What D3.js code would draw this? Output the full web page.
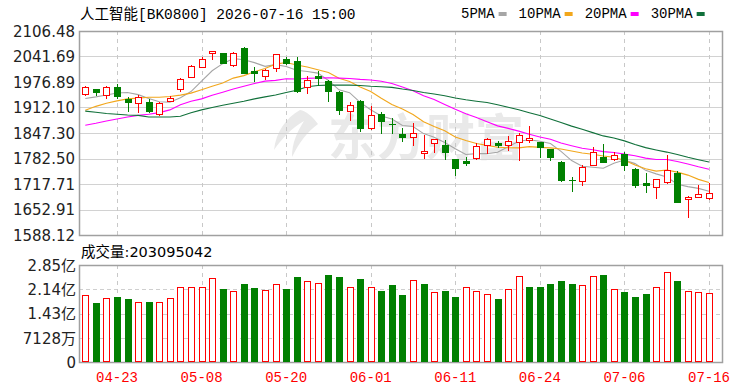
<!DOCTYPE html>
<html><head><meta charset="utf-8">
<script src="https://cdn.jsdelivr.net/npm/d3@7"></script>
<style>html,body{margin:0;padding:0;background:#fff;overflow:hidden}</style>
</head><body><svg id="c" width="750" height="391"></svg>
<script>
// ---------------- data ----------------
const title = "人工智能[BK0800] 2026-07-16 15:00";
const volTitle = "成交量:203095042";
const dates = ["04-20","04-21","04-22","04-23","04-24","04-27","04-28","04-29","04-30","05-06",
  "05-07","05-08","05-11","05-12","05-13","05-14","05-15","05-18","05-19","05-20",
  "05-21","05-22","05-25","05-26","05-27","05-28","05-29","06-01","06-02","06-03",
  "06-04","06-05","06-08","06-09","06-10","06-11","06-12","06-15","06-16","06-17",
  "06-18","06-22","06-23","06-24","06-25","06-26","06-29","06-30","07-01","07-02",
  "07-03","07-06","07-07","07-08","07-09","07-10","07-13","07-14","07-15","07-16"];
const openP = [1946.4,1959.1,1943.8,1964.3,1932.8,1922.6,1926.9,1894.5,1928.5,1959.1,
  1989.8,2015.3,2049.5,2049.5,2018.9,2063.1,2004.1,1992.1,2012.5,2036.1,
  2029.5,1963.4,1992.9,1978.7,1951.5,1903.9,1927.9,1860.0,1895.6,1870.2,
  1845.5,1837.9,1797.2,1821.1,1816.8,1780.5,1776.9,1783.0,1816.8,1821.1,
  1817.6,1825.2,1829.5,1823.7,1805.9,1774.4,1727.9,1725.3,1766.0,1785.5,
  1780.5,1793.9,1755.0,1719.5,1710.9,1723.6,1744.9,1678.8,1685.4,1681.4];
const highP = [1967.0,1960.0,1966.5,1971.1,1938.7,1943.8,1932.8,1926.9,1942.3,1986.5,
  2019.7,2039.3,2056.7,2050.3,2052.9,2065.6,2014.3,2008.7,2049.3,2039.7,
  2039.7,1991.4,2004.1,1982.7,1952.8,1926.1,1931.9,1915.1,1900.7,1885.4,
  1860.0,1873.5,1842.2,1832.1,1829.5,1782.5,1787.1,1821.1,1833.8,1827.8,
  1839.7,1846.5,1865.1,1824.5,1806.7,1776.1,1736.3,1766.0,1812.5,1819.3,
  1799.8,1799.8,1758.4,1744.9,1731.0,1791.4,1751.5,1686.0,1715.2,1721.0];
const lowP = [1944.0,1943.0,1935.4,1935.4,1902.9,1901.4,1899.7,1893.0,1927.7,1954.0,
  1989.0,2014.6,2035.7,2024.8,2017.1,1999.2,1980.2,1985.3,2005.6,2022.6,
  1951.5,1949.0,1970.0,1927.8,1895.6,1881.1,1853.1,1858.7,1847.3,1847.3,
  1826.2,1816.8,1783.0,1799.8,1780.5,1740.6,1766.0,1782.5,1795.7,1812.5,
  1804.1,1778.7,1825.2,1787.1,1778.7,1726.6,1700.7,1715.2,1765.0,1773.6,
  1778.7,1753.3,1710.9,1698.2,1681.4,1719.5,1671.0,1634.6,1684.5,1680.0];
const closeP = [1965.3,1950.7,1965.3,1942.3,1926.9,1938.7,1902.9,1923.4,1935.4,1984.7,
  2017.1,2035.7,2054.6,2025.5,2050.3,2001.0,1999.0,2007.4,2048.0,2025.9,
  1953.3,1982.7,1987.1,1954.8,1906.5,1917.7,1860.0,1892.3,1877.0,1866.9,
  1836.4,1846.5,1802.3,1831.3,1799.8,1757.6,1771.8,1814.3,1831.3,1817.6,
  1826.2,1842.2,1833.8,1812.5,1787.1,1727.9,1724.5,1761.6,1799.8,1774.4,
  1791.4,1766.0,1716.0,1714.0,1729.6,1753.3,1672.7,1685.4,1692.0,1694.1];
const volume = [197e6,172.5e6,187e6,192e6,184e6,175e6,175e6,175e6,187e6,220e6,
  220e6,220e6,246e6,214e6,209e6,230e6,217e6,212e6,229e6,214e6,
  251e6,238e6,233e6,256e6,251e6,221e6,243e6,221e6,210e6,225e6,
  196e6,241e6,230e6,205e6,210e6,192e6,220e6,209e6,200e6,184e6,
  215e6,254e6,221e6,221e6,230e6,238e6,230e6,225e6,254e6,255e6,
  215e6,205e6,192e6,201e6,220e6,265e6,238e6,209e6,205e6,203095042];
const ma5 = [1935,1939,1944,1949,1950.1,1944.8,1935.2,1926.8,1925.5,1937.0,
  1952.7,1979.3,2005.5,2023.5,2036.6,2033.4,2026.1,2016.6,2021.1,2016.3,
  2006.7,2003.5,1999.4,1980.8,1956.9,1949.8,1925.2,1906.3,1890.7,1882.8,
  1866.5,1863.8,1845.8,1836.7,1823.3,1807.5,1792.6,1795.0,1795.0,1798.5,
  1812.2,1826.3,1830.2,1826.5,1820.4,1800.7,1777.2,1762.7,1760.2,1757.6,
  1770.3,1778.6,1769.5,1752.4,1743.4,1735.8,1717.1,1711.0,1706.6,1699.5];
const ma10 = [1905,1915,1923,1929,1934,1936,1938,1938,1940,1943.6,
  1948.7,1957.2,1966.2,1974.5,1986.8,1993.1,2002.7,2011.1,2022.3,2026.5,
  2020.1,2014.8,2008.0,2001.0,1986.6,1978.2,1964.3,1952.8,1935.7,1919.8,
  1908.1,1894.5,1876.0,1863.7,1853.0,1837.0,1828.2,1820.4,1815.8,1810.9,
  1809.9,1809.4,1812.6,1810.7,1809.4,1806.5,1801.7,1796.5,1793.3,1789.0,
  1785.5,1777.9,1766.1,1756.3,1750.5,1753.1,1747.9,1740.3,1729.5,1721.5];
const ma20 = [1867,1872,1878,1883,1888,1892,1895,1899,1906,1919,
  1928,1934,1943,1951,1959,1966,1973,1979,1981,1985.0,
  1984.4,1986.0,1987.1,1987.7,1986.7,1985.7,1983.5,1982.0,1979.0,1973.1,
  1964.1,1954.6,1942.0,1932.3,1919.8,1907.6,1896.3,1886.6,1875.8,1865.4,
  1859.0,1852.0,1844.3,1837.2,1831.2,1821.7,1815.0,1808.4,1804.6,1799.9,
  1797.7,1793.7,1789.4,1783.5,1780.0,1779.8,1774.8,1768.4,1761.4,1755.2];
const ma30 = [1903,1900,1897,1895,1893,1892,1888,1888,1888,1890,
  1899,1906,1912,1918,1923,1928,1934,1939,1944,1950,
  1956,1965,1968,1969,1969,1969,1968,1966,1965,1963.3,
  1959.0,1955.5,1950.1,1946.4,1942.1,1936.1,1931.7,1928.1,1924.6,1919.1,
  1912.7,1906.2,1898.9,1891.8,1883.0,1873.9,1864.8,1856.6,1848.3,1839.9,
  1834.5,1827.3,1818.3,1810.2,1804.3,1798.8,1792.6,1785.7,1779.5,1773.8];
const maNames = ["5PMA","10PMA","20PMA","30PMA"];
const priceTicks = [1588.12,1652.91,1717.71,1782.50,1847.30,1912.10,1976.89,2041.69,2106.48];
const volTicks = [0,71280000,142560000,213840000,285120000];
const volTickLabels = ["0","7128万","1.43亿","2.14亿","2.85亿"];
const xTickLabels = ["04-23","05-08","05-20","06-01","06-11","06-24","07-06","07-16"];

// ---------------- styles / layout ----------------
const RED = "#ff0000", GREEN = "#008000";
const maColors = ["#a6a6a6","#f2a71c","#ff00ff","#10703a"];
const F = {left:79, right:722, pTop:31, pBot:235, vTop:265, vBot:362};
const monoFont = "'Liberation Mono','Noto Sans CJK SC',monospace";
const sansFont = "'DejaVu Sans','Noto Sans CJK SC',sans-serif";

const svg = d3.select("#c");
const x = d3.scaleBand().domain(dates).range([80, 714.3]).padding(0);
const cx = d => x(d) + x.bandwidth() / 2;
const y = d3.scaleLinear().domain([priceTicks[0], priceTicks[priceTicks.length-1]]).range([F.pBot, F.pTop]);
const yv = d3.scaleLinear().domain([0, volTicks[volTicks.length-1]]).range([F.vBot, F.vTop]);

// watermark
const wm = svg.append("g").attr("fill", "#e9e9e9");
wm.append("path").attr("d",
  "M300,110 C286,118 276,132 274,150 C282,138 292,128 304,121 C297,132 292,143 292,157 C299,143 307,132 318,124 C312,116 306,111 300,110 Z");
wm.append("text").attr("x", 328).attr("y", 155).attr("font-family", "'Noto Sans CJK SC',sans-serif")
  .attr("font-weight", "bold").attr("font-size", 49).attr("letter-spacing", 0).text("东方财富");

// grids
const grid = svg.append("g");
priceTicks.slice(1, -1).forEach(t => {
  const yy = Math.round(y(t)) + 0.5;
  grid.append("line").attr("x1", F.left).attr("x2", F.right).attr("y1", yy).attr("y2", yy)
    .attr("stroke", "#d2d2d2").attr("stroke-width", 1);
});
volTicks.slice(1, -1).forEach(t => {
  const yy = Math.round(yv(t)) + 0.5;
  grid.append("line").attr("x1", F.left).attr("x2", F.right).attr("y1", yy).attr("y2", yy)
    .attr("stroke", "#cfcfcf").attr("stroke-dasharray", "4,3");
});
xTickLabels.forEach(d => {
  const xx = Math.round(cx(d)) + 0.5;
  [[F.pTop, F.pBot], [F.vTop, F.vBot]].forEach(([a, b]) => {
    grid.append("line").attr("x1", xx).attr("x2", xx).attr("y1", a).attr("y2", b)
      .attr("stroke", "#c8c8c8").attr("stroke-dasharray", "4,4");
  });
});

// frames
[[F.pTop, F.pBot], [F.vTop, F.vBot]].forEach(([a, b]) => {
  svg.append("rect").attr("x", F.left + 0.5).attr("y", a + 0.5).attr("width", F.right - F.left)
    .attr("height", b - a).attr("fill", "none").attr("stroke", "#a0a0a0").attr("stroke-width", 1.5);
});

// MA lines
const maSeries = [ma5, ma10, ma20, ma30];
const line = d3.line().x((v, i) => cx(dates[i])).y(v => y(v));
maSeries.forEach((s, k) => {
  svg.append("path").datum(s).attr("d", line).attr("fill", "none")
    .attr("stroke", maColors[k]).attr("stroke-width", 1.1);
});

// candles
const cg = svg.append("g");
dates.forEach((d, i) => {
  const o = openP[i], c = closeP[i], h = highP[i], l = lowP[i];
  const up = c >= o;
  const col = up ? RED : GREEN;
  const px = Math.round(cx(d));
  cg.append("line").attr("x1", px + 0.5).attr("x2", px + 0.5)
    .attr("y1", Math.round(y(h))).attr("y2", Math.round(y(l)) + 1).attr("stroke", col);
  const top = Math.round(y(Math.max(o, c))), bot = Math.round(y(Math.min(o, c)));
  if (bot - top < 2) {
    cg.append("rect").attr("x", px - 3).attr("y", top).attr("width", 7).attr("height", Math.max(1, bot - top)).attr("fill", col);
  } else if (up) {
    cg.append("rect").attr("x", px - 2.5).attr("y", top + 0.5).attr("width", 6).attr("height", bot - top)
      .attr("fill", "#fff").attr("stroke", RED).attr("stroke-width", 1);
  } else {
    cg.append("rect").attr("x", px - 3).attr("y", top).attr("width", 7).attr("height", bot - top + 1).attr("fill", GREEN);
  }
});

// volume bars (colour by change vs previous close)
const vg = svg.append("g");
dates.forEach((d, i) => {
  const up = i === 0 ? closeP[i] >= openP[i] : closeP[i] >= closeP[i-1];
  const px = Math.round(cx(d));
  const top = Math.round(yv(volume[i]));
  if (up) {
    vg.append("rect").attr("x", px - 2.5).attr("y", top + 0.5).attr("width", 6).attr("height", F.vBot - top - 1)
      .attr("fill", "#fff").attr("stroke", RED).attr("stroke-width", 1);
  } else {
    vg.append("rect").attr("x", px - 3).attr("y", top).attr("width", 7).attr("height", F.vBot - top).attr("fill", GREEN);
  }
});

// axes
const ax = svg.append("g").attr("transform", `translate(${F.left},0)`)
  .call(d3.axisLeft(y).tickValues(priceTicks).tickFormat(d3.format(".2f")).tickSize(0).tickPadding(4));
ax.select(".domain").remove();
ax.selectAll("text").attr("font-family", sansFont).attr("font-size", 15).attr("fill", "#222").attr("dy", "0.36em");

const av = svg.append("g").attr("transform", `translate(${F.left - 3},0)`)
  .call(d3.axisLeft(yv).tickValues(volTicks).tickFormat((d, i) => volTickLabels[i]).tickSize(0).tickPadding(0));
av.select(".domain").remove();
av.selectAll("text").attr("font-family", sansFont).attr("font-size", 15).attr("fill", "#222").attr("dy", "0.36em");

const axb = svg.append("g").attr("transform", `translate(0,${F.vBot})`)
  .call(d3.axisBottom(x).tickValues(xTickLabels).tickSize(0).tickPadding(0));
axb.select(".domain").remove();
axb.selectAll("text").attr("font-family", monoFont).attr("font-size", 14).attr("fill", RED)
  .attr("y", 20).attr("dy", 0);

// title, volume title
svg.append("text").attr("x", 80).attr("y", 19).attr("font-family", monoFont).attr("font-size", 14.5)
  .attr("fill", "#000").text(title);
svg.append("text").attr("x", 81).attr("y", 257).attr("font-family", sansFont).attr("font-size", 14.5)
  .attr("fill", "#000").text(volTitle);

// legend
let lx = 461;
maNames.forEach((n, k) => {
  const t = svg.append("text").attr("x", lx).attr("y", 18).attr("font-family", monoFont)
    .attr("font-size", 14).attr("fill", "#000").text(n);
  const w = t.node().getComputedTextLength();
  svg.append("rect").attr("x", lx + w + 4).attr("y", 12).attr("width", 8).attr("height", 4).attr("fill", maColors[k]);
  lx += w + 24;
});
</script></body></html>
